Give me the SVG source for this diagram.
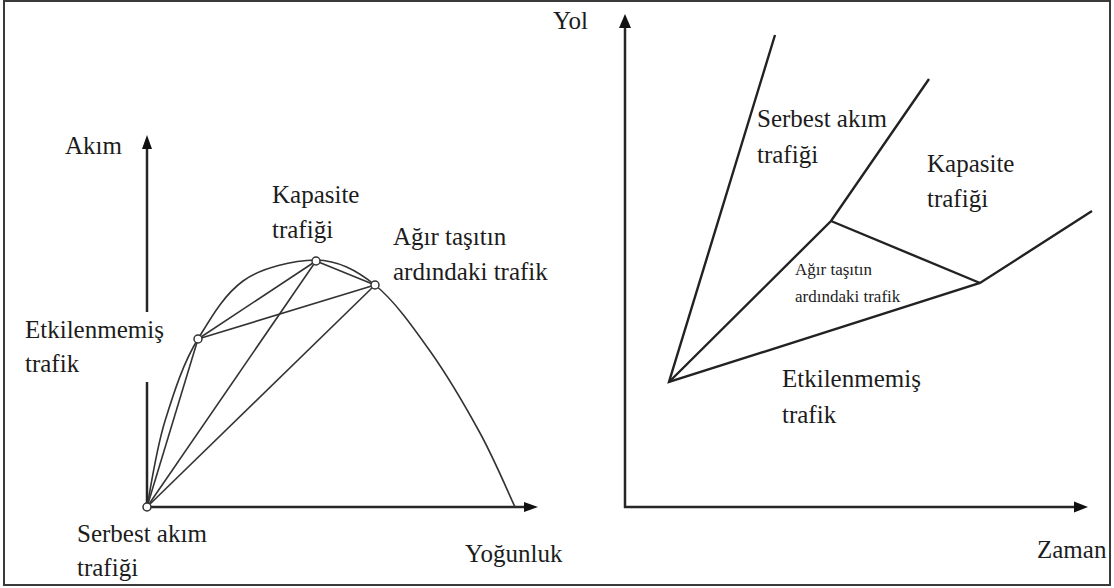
<svg xmlns="http://www.w3.org/2000/svg" width="1114" height="588" viewBox="0 0 1114 588">
  <style>
    .lbl { font-family: 'Liberation Serif', Tinos, 'DejaVu Serif', serif; font-size: 25px; fill: #1c1c1c; }
    .sm { font-size: 17px; }
    .axis { stroke: #262626; stroke-width: 2.5; fill: none; }
    .curve { stroke: #333; stroke-width: 1.6; fill: none; }
    .wave { stroke: #222; stroke-width: 2.4; fill: none; stroke-linejoin: miter; }
    .head { fill: #111; }
    .pt { fill: #fff; stroke: #333; stroke-width: 1.5; }
  </style>

  <rect x="0" y="0" width="1114" height="588" fill="#fff"/>
  <!-- outer frame -->
  <rect x="4" y="1" width="1106" height="584" fill="none" stroke="#3a3a3a" stroke-width="2"/>

  <!-- flow–density chart -->
  <g id="left-chart">
    <g id="left-axes">
      <line class="axis" x1="147" y1="508" x2="147" y2="382"/>
      <line class="axis" x1="147" y1="312" x2="147" y2="147"/>
      <polygon class="head" points="147,135 142,149 152,149"/>
      <line class="axis" x1="147" y1="507" x2="526" y2="507"/>
      <polygon class="head" points="538,507 524,502 524,512"/>
    </g>

    <g id="connectors">
      <!-- fundamental diagram curve -->
      <path class="curve" d="M147,507 C150,492 156,450 165,421 C174,392 184,361 198,339 C212,316 224,295 243,281 C262,267 294,260.5 316,260 C338,260.5 356,269.8 375,285 C394,300.2 412.5,326.3 430,351 C447.5,375.7 465.8,407 480,433 C494.2,459 509.2,494.7 515,507"/>
      <!-- chords between traffic states -->
      <line class="curve" x1="147" y1="507" x2="198" y2="339"/>
      <line class="curve" x1="147" y1="507" x2="316" y2="261"/>
      <line class="curve" x1="147" y1="507" x2="375" y2="285"/>
      <line class="curve" x1="198" y1="339" x2="316" y2="261"/>
      <line class="curve" x1="198" y1="339" x2="375" y2="285"/>
      <line class="curve" x1="316" y1="261" x2="375" y2="285"/>
    </g>

    <g id="node-serbest"><circle class="pt" cx="147" cy="507" r="4"/></g>
    <g id="node-etkilenmemis"><circle class="pt" cx="198" cy="339" r="4"/></g>
    <g id="node-kapasite"><circle class="pt" cx="316" cy="261" r="4"/></g>
    <g id="node-agir"><circle class="pt" cx="375" cy="285" r="4"/></g>

    <g id="left-labels" font-family="Liberation Serif, serif">
      <text class="lbl" x="65" y="154">Akım</text>
      <text class="lbl" x="272" y="203">Kapasite</text>
      <text class="lbl" x="272" y="238">trafiği</text>
      <text class="lbl" x="393" y="245">Ağır taşıtın</text>
      <text class="lbl" x="393" y="280">ardındaki trafik</text>
      <text class="lbl" x="25" y="338">Etkilenmemiş</text>
      <text class="lbl" x="25" y="372">trafik</text>
      <text class="lbl" x="77" y="542">Serbest akım</text>
      <text class="lbl" x="77" y="576">trafiği</text>
      <text class="lbl" x="465" y="562">Yoğunluk</text>
    </g>
  </g>

  <!-- time–space chart -->
  <g id="right-chart">
    <g id="right-axes">
      <line class="axis" x1="625" y1="508" x2="625" y2="27"/>
      <polygon class="head" points="625,14 619,28 631,28"/>
      <line class="axis" x1="624" y1="507" x2="1075" y2="507"/>
      <polygon class="head" points="1088,507 1074,501.5 1074,512.5"/>
    </g>

    <g id="shock-waves">
      <polyline class="wave" points="775,35 669,382 980,283 1092,211"/>
      <polyline class="wave" points="669,382 831,221 929,79"/>
      <line class="wave" x1="831" y1="221" x2="980" y2="283"/>
    </g>

    <g id="right-labels" font-family="Liberation Serif, serif">
      <text class="lbl" x="553" y="29">Yol</text>
      <text class="lbl" x="757" y="127">Serbest akım</text>
      <text class="lbl" x="757" y="163">trafiği</text>
      <text class="lbl" x="927" y="172">Kapasite</text>
      <text class="lbl" x="927" y="207">trafiği</text>
      <text class="lbl sm" x="795" y="275">Ağır taşıtın</text>
      <text class="lbl sm" x="795" y="302">ardındaki trafik</text>
      <text class="lbl" x="782" y="387">Etkilenmemiş</text>
      <text class="lbl" x="782" y="423">trafik</text>
      <text class="lbl" x="1037" y="558">Zaman</text>
    </g>
  </g>
</svg>
